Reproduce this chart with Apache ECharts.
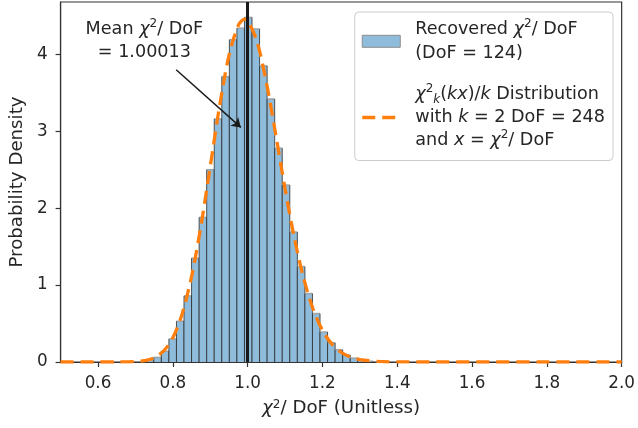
<!DOCTYPE html>
<html>
<head>
<meta charset="utf-8">
<script src="https://cdn.jsdelivr.net/npm/echarts@6/dist/echarts.min.js"></script>
<style>
  html, body { margin: 0; padding: 0; background: #fff; }
  #chart { width: 638px; height: 428px; }
</style>
</head>
<body>
<div id="chart"></div>
<script>
// 直方图 bin 边界（χ²/DoF）
const binEdges = [0.7290, 0.7492, 0.7694, 0.7896, 0.8098, 0.8300, 0.8502, 0.8704, 0.8906, 0.9108,
  0.9310, 0.9512, 0.9714, 0.9916, 1.0118, 1.0320, 1.0522, 1.0724, 1.0926, 1.1128,
  1.1330, 1.1532, 1.1734, 1.1936, 1.2138, 1.2340, 1.2542, 1.2744, 1.2946, 1.3148, 1.3350];
// 每个 bin 的概率密度
const binHeights = [0.02, 0.06, 0.14, 0.30, 0.53, 0.86, 1.35, 1.88, 2.50, 3.16,
  3.71, 4.19, 4.34, 4.48, 4.33, 3.85, 3.42, 2.78, 2.30, 1.69,
  1.24, 0.89, 0.63, 0.39, 0.25, 0.16, 0.09, 0.05, 0.03, 0.01];
// χ²_k(kx)/k 曲线
const curveX = [0.50, 0.60, 0.65, 0.70, 0.725, 0.75, 0.775, 0.80, 0.825, 0.85, 0.875, 0.90, 0.925, 0.95,
  0.975, 0.992, 1.00, 1.025, 1.05, 1.075, 1.10, 1.125, 1.15, 1.175, 1.20, 1.225, 1.25, 1.275,
  1.30, 1.35, 1.40, 1.50, 2.00];
const curveY = [0, 0, 0.0003, 0.006, 0.019, 0.055, 0.141, 0.314, 0.625, 1.107, 1.762, 2.538, 3.324, 3.981,
  4.374, 4.457, 4.439, 4.169, 3.638, 2.964, 2.256, 1.612, 1.086, 0.689, 0.413, 0.235, 0.127, 0.065,
  0.032, 0.0068, 0.0012, 0, 0];
// 平均值
const meanValue = 1.00013;
// 刻度
const xTicks = [0.6, 0.8, 1.0, 1.2, 1.4, 1.6, 1.8, 2.0];
const yTicks = [0, 1, 2, 3, 4];
// 注释位置
const notePos = [0.724, 4.17];
const arrowFrom = [0.809, 3.80];
const arrowTo = [0.982, 3.05];

const FONT = 'DejaVu Sans';
const TXT = '#262626';
const FS = 17.6;      // 图例和注释
const FS_AXIS = 18.2; // 坐标轴标题
const FS_TICK = 16.8; // 刻度标签

function makeRich(fs) {
  return {
    i: { fontStyle: 'italic', fontSize: fs, fontFamily: FONT, color: TXT },
    sup: { fontSize: 12, lineHeight: 14, verticalAlign: 'top', fontFamily: FONT, color: TXT },
    sub: { fontSize: 12, lineHeight: 14, verticalAlign: 'bottom', fontStyle: 'italic', fontFamily: FONT, color: TXT }
  };
}

const histData = [];
for (let i = 0; i < binHeights.length; i++) {
  histData.push([binEdges[i], binEdges[i + 1], binHeights[i]]);
}
const curveData = curveX.map((x, i) => [x, curveY[i]]);

const legendText = {
  hist: 'Recovered {i|χ}{sup|2}/ DoF\n(DoF = 124)',
  chi: '{i|χ}{sup|2}{sub|k}({i|kx})/{i|k} Distribution\nwith {i|k} = 2 DoF = 248\nand {i|x} = {i|χ}{sup|2}/ DoF'
};

const chart = echarts.init(document.getElementById('chart'));
const option = {
  animation: false,
  textStyle: { fontFamily: FONT, color: TXT },
  grid: {
    left: 59, right: 16, top: 2, bottom: 66,
    show: true, borderColor: '#333', borderWidth: 1.2, backgroundColor: 'transparent'
  },
  legend: {
    data: [
      { name: 'hist', icon: 'rect', itemStyle: { color: '#8fbcdb', borderColor: '#8c8c8c', borderWidth: 1 } },
      {
        name: 'chi',
        icon: 'path://M0,0h13v3.4h-13zM20,0h13v3.4h-13zM37.9,1.6h0.1v0.1h-0.1z',
        itemStyle: { color: '#ff7f0e', borderWidth: 0 }
      }
    ],
    symbolKeepAspect: true,
    orient: 'vertical',
    align: 'left',
    right: 25,
    top: 12,
    itemWidth: 38,
    itemHeight: 12,
    itemGap: 18,
    padding: [6, 8, 8, 7],
    backgroundColor: 'rgba(255,255,255,0.85)',
    borderColor: '#cccccc',
    borderWidth: 1,
    borderRadius: 4,
    selectedMode: false,
    formatter: name => legendText[name],
    textStyle: {
      fontFamily: FONT, fontSize: FS, color: TXT, lineHeight: 23.3,
      padding: [0, 0, 0, 10],
      rich: makeRich(FS)
    }
  },
  xAxis: {
    type: 'value',
    min: 0.5,
    max: 2.0,
    name: '{i|χ}{sup|2}/ DoF (Unitless)',
    nameLocation: 'middle',
    nameGap: 37,
    nameTextStyle: { fontFamily: FONT, fontSize: FS_AXIS, color: TXT, rich: makeRich(FS_AXIS) },
    axisLine: { show: true, lineStyle: { color: '#333', width: 1.2 } },
    axisTick: { show: true, length: 5, lineStyle: { color: '#333', width: 1.2 }, customValues: xTicks },
    axisLabel: {
      fontFamily: FONT, fontSize: FS_TICK, color: TXT, margin: 13,
      customValues: xTicks,
      formatter: v => v.toFixed(1)
    },
    splitLine: { show: false }
  },
  yAxis: {
    type: 'value',
    min: 0,
    max: 4.68,
    name: 'Probability Density',
    nameLocation: 'middle',
    nameGap: 33,
    nameTextStyle: { fontFamily: FONT, fontSize: FS_AXIS, color: TXT },
    axisLine: { show: true, lineStyle: { color: '#333', width: 1.2 } },
    axisTick: { show: true, length: 5, lineStyle: { color: '#333', width: 1.2 }, customValues: yTicks },
    axisLabel: { fontFamily: FONT, fontSize: FS_TICK, color: TXT, margin: 13, customValues: yTicks },
    splitLine: { show: false }
  },
  series: [
    {
      name: 'hist',
      type: 'custom',
      itemStyle: { color: '#8fbcdb' },
      data: histData,
      encode: { x: [0, 1], y: 2 },
      renderItem: function (params, api) {
        const top = api.coord([api.value(0), api.value(2)]);
        const bot = api.coord([api.value(1), 0]);
        return {
          type: 'group',
          children: [
            { type: 'rect', shape: { x: top[0], y: top[1], width: bot[0] - top[0], height: bot[1] - top[1] }, style: { fill: '#8fbcdb' } },
            { type: 'line', shape: { x1: top[0], y1: top[1], x2: bot[0], y2: top[1] }, style: { stroke: '#a3a3a3', lineWidth: 1.5 } },
            { type: 'line', shape: { x1: top[0], y1: top[1], x2: top[0], y2: bot[1] }, style: { stroke: '#2b2b2b', lineWidth: 0.8 } },
            { type: 'line', shape: { x1: bot[0], y1: top[1], x2: bot[0], y2: bot[1] }, style: { stroke: '#2b2b2b', lineWidth: 0.8 } }
          ]
        };
      }
    },
    {
      name: 'chi',
      type: 'line',
      data: curveData,
      smooth: 0.3,
      symbol: 'none',
      lineStyle: { color: '#ff7f0e', width: 3.3, type: [13, 7] },
      itemStyle: { color: '#ff7f0e' },
      z: 3
    },
    {
      name: 'note',
      type: 'scatter',
      data: [notePos],
      symbolSize: 1,
      itemStyle: { color: 'rgba(0,0,0,0)' },
      silent: true,
      z: 5,
      label: {
        show: true,
        position: 'inside',
        align: 'center',
        fontFamily: FONT,
        fontSize: FS,
        color: TXT,
        opacity: 1,
        textBorderWidth: 0,
        lineHeight: 23,
        formatter: 'Mean {i|χ}{sup|2}/ DoF\n= 1.00013',
        rich: makeRich(FS)
      },
      markLine: {
        silent: true,
        animation: false,
        label: { show: false },
        emphasis: { disabled: true },
        data: [
          [
            { coord: arrowFrom, symbol: 'none', lineStyle: { color: '#1a1a1a', width: 1.5, type: 'solid' } },
            { coord: arrowTo, symbol: 'arrow', symbolSize: 9 }
          ],
          {
            xAxis: meanValue, symbol: 'none',
            lineStyle: { color: '#1a1a1a', width: 3, type: 'solid' }
          }
        ],
        symbol: ['none', 'none']
      }
    }
  ]
};
chart.setOption(option);
</script>
</body>
</html>
